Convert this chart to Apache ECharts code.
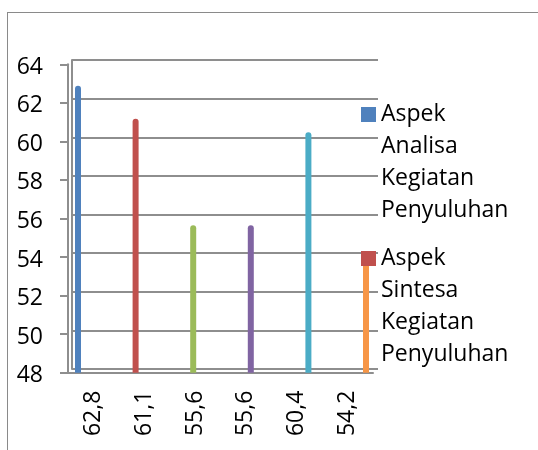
<!DOCTYPE html>
<html><head><meta charset="utf-8">
<script src="https://cdn.jsdelivr.net/npm/echarts@6/dist/echarts.min.js"></script>
<style>
html,body{margin:0;padding:0;background:#fff;}
#wrap{position:relative;width:538px;height:450px;overflow:hidden;}
#frame{position:absolute;left:7px;top:12px;width:560px;height:460px;border-left:1.5px solid #8a8a8a;border-top:1.5px solid #8a8a8a;}
#chart{position:absolute;left:0;top:0;width:538px;height:450px;}
</style></head><body>
<div id="wrap"><div id="frame"></div><div id="chart"></div></div>
<script>
const categories = ['62,8', '61,1', '55,6', '55,6', '60,4', '54,2'];
const values = [62.8, 61.1, 55.6, 55.6, 60.4, 54.2];
const barColors = ['#4F81BD', '#C0504D', '#9BBB59', '#8064A2', '#4BACC6', '#F79646'];
const legendNames = ['Aspek\nAnalisa\nKegiatan\nPenyuluhan', 'Aspek\nSintesa\nKegiatan\nPenyuluhan'];
const legendColors = ['#4F81BD', '#C0504D'];
const yMin = 48, yMax = 64, yStep = 2;

const FONT = 'Open Sans';
const GRAY = '#8e8e8e';
const chart = echarts.init(document.getElementById('chart'));

// square marker at the top of a tall (text-height) legend item box
const legendIcon = 'path://M0,0h0.01M0,8.5h15v15h-15zM0,128h0.01';
const legendText = {fontFamily: FONT, fontSize: 23, lineHeight: 32, color: '#000'};

chart.setOption({
  animation: false,
  grid: [
    {left: 68, top: 64.3, width: 305, height: 308.4, outerBoundsMode: 'none'},
    {left: 72, top: 60, width: 306, height: 309, outerBoundsMode: 'none'},
    {left: 49.2, top: 62.5, width: 345.6, height: 310.2, outerBoundsMode: 'none'}
  ],
  legend: [
    {data: [legendNames[0]], left: 361, top: 98.5, padding: 0, orient: 'vertical', icon: legendIcon,
     itemWidth: 15, itemHeight: 128, selectedMode: false, textStyle: legendText},
    {data: [legendNames[1]], left: 361, top: 242.5, padding: 0, orient: 'vertical', icon: legendIcon,
     itemWidth: 15, itemHeight: 128, selectedMode: false, textStyle: legendText}
  ],
  xAxis: [
    {gridIndex: 0, type: 'category', data: categories,
     axisLine: {show: true, lineStyle: {color: GRAY, width: 2}},
     axisTick: {show: false},
     axisLabel: {rotate: 90, margin: 18, fontFamily: FONT, fontSize: 23, color: '#000'},
     splitLine: {show: false}},
    {gridIndex: 1, type: 'category', data: categories, show: false},
    {gridIndex: 2, type: 'category', data: categories, show: false}
  ],
  yAxis: [
    {gridIndex: 0, type: 'value', min: yMin, max: yMax, interval: yStep,
     axisLine: {show: true, lineStyle: {color: GRAY, width: 2}},
     axisTick: {show: true, length: 8, lineStyle: {color: GRAY, width: 2}},
     axisLabel: {margin: 25, fontFamily: FONT, fontSize: 23, color: '#000', verticalAlign: 'top', lineHeight: 6},
     splitLine: {show: false}},
    {gridIndex: 1, type: 'value', min: yMin, max: yMax, interval: yStep,
     axisLine: {show: true, lineStyle: {color: GRAY, width: 2}},
     axisTick: {show: false}, axisLabel: {show: false},
     splitLine: {show: true, lineStyle: {color: GRAY, width: 2}}},
    {gridIndex: 2, type: 'value', min: yMin, max: yMax, interval: yStep, show: false,
     splitLine: {show: false}}
  ],
  series: [
    {type: 'bar', xAxisIndex: 2, yAxisIndex: 2, barWidth: 6,
     data: values.map((v, i) => ({value: v, itemStyle: {color: barColors[i], borderRadius: [3, 3, 0, 0]}}))},
    {name: legendNames[0], type: 'bar', xAxisIndex: 1, yAxisIndex: 1, data: [], itemStyle: {color: legendColors[0]}},
    {name: legendNames[1], type: 'bar', xAxisIndex: 1, yAxisIndex: 1, data: [], itemStyle: {color: legendColors[1]}}
  ]
});
</script>
</body></html>
